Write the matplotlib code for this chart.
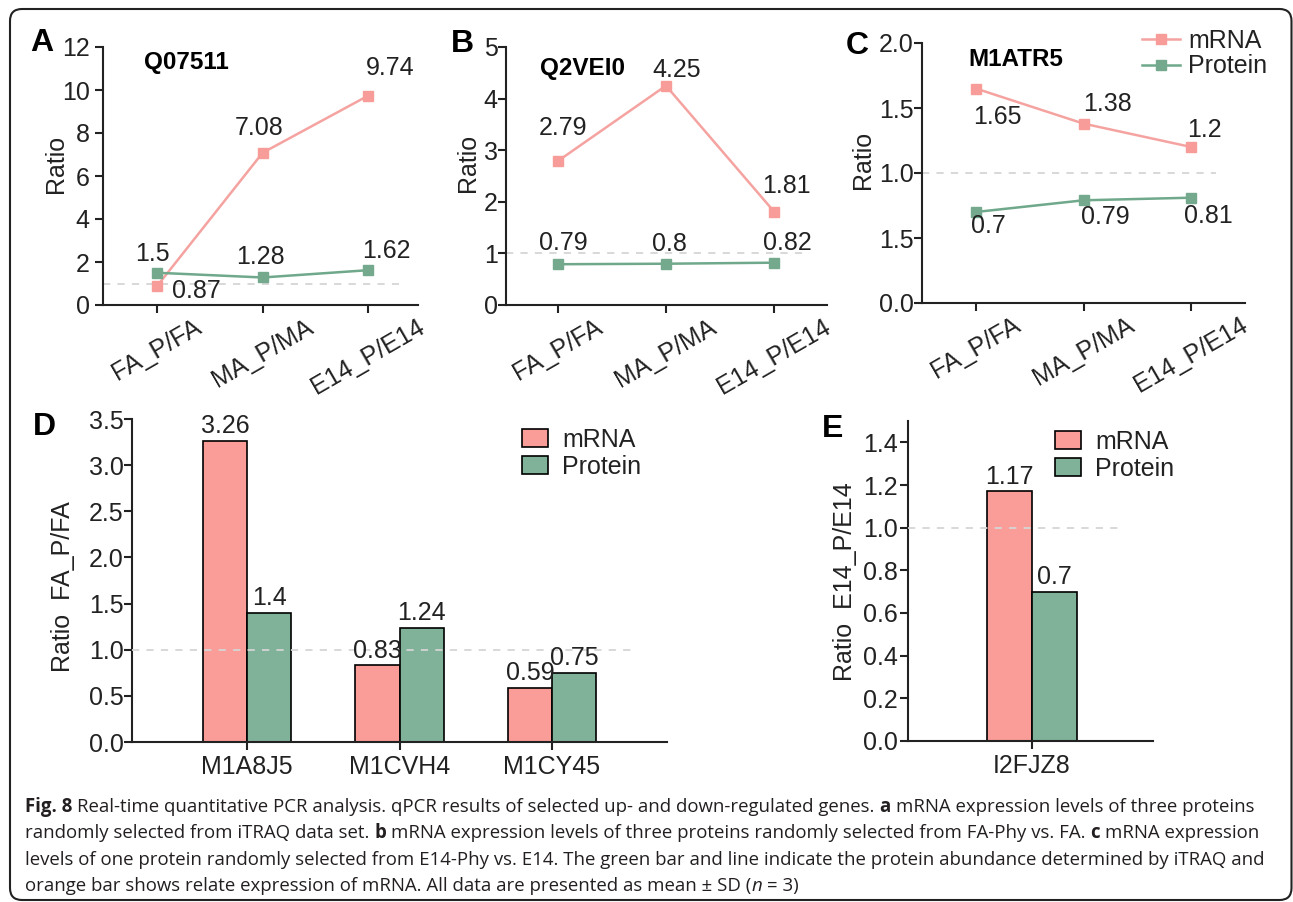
"""
qPCR vs iTRAQ ratios (Fig. 8): three line panels (A-C) on top,
two grouped bar panels (D, E) below, caption box at the bottom.
"""
import matplotlib
matplotlib.use("Agg")
import matplotlib.pyplot as plt
import numpy as np
from matplotlib.patches import FancyBboxPatch
from matplotlib.transforms import IdentityTransform

# ── Data ───────────────────────────────────────────────────────────────────────
CATS = ["FA_P/FA", "MA_P/MA", "E14_P/E14"]

A_MRNA = [0.87, 7.08, 9.74]
A_PROT = [1.5, 1.28, 1.62]
B_MRNA = [2.79, 4.25, 1.81]
B_PROT = [0.79, 0.8, 0.82]
C_MRNA = [1.65, 1.38, 1.2]
C_PROT = [0.7, 0.79, 0.81]

A_YTICKS = [0, 2, 4, 6, 8, 10, 12]
B_YTICKS = [0, 1, 2, 3, 4, 5]
C_YTICKS = [0.0, 0.5, 1.0, 1.5, 2.0]
C_YTICK_LABELS = ["0.0", "1.5", "1.0", "1.5", "2.0"]   # as printed in the figure

D_GENES = ["M1A8J5", "M1CVH4", "M1CY45"]
D_MRNA = [3.26, 0.83, 0.59]
D_PROT = [1.4, 1.24, 0.75]
D_YTICKS = [0.0, 0.5, 1.0, 1.5, 2.0, 2.5, 3.0, 3.5]

E_GENES = ["I2FJZ8"]
E_MRNA = [1.17]
E_PROT = [0.7]
E_YTICKS = [0.0, 0.2, 0.4, 0.6, 0.8, 1.0, 1.2, 1.4]

CAPTION = [
    [("Fig. 8", "bold", "normal"),
     (" Real-time quantitative PCR analysis. qPCR results of selected up- and down-regulated genes. ", "normal", "normal"),
     ("a", "bold", "normal"),
     (" mRNA expression levels of three proteins", "normal", "normal")],
    [("randomly selected from iTRAQ data set. ", "normal", "normal"),
     ("b", "bold", "normal"),
     (" mRNA expression levels of three proteins randomly selected from FA-Phy vs. FA. ", "normal", "normal"),
     ("c", "bold", "normal"),
     (" mRNA expression", "normal", "normal")],
    [("levels of one protein randomly selected from E14-Phy vs. E14. The green bar and line indicate the protein abundance determined by iTRAQ and",
      "normal", "normal")],
    [("orange bar shows relate expression of mRNA. All data are presented as mean \u00b1 SD (", "normal", "normal"),
     ("n", "normal", "italic"),
     (" = 3)", "normal", "normal")],
]

# ── Style ──────────────────────────────────────────────────────────────────────
plt.rcParams.update({
    "font.family": ["Liberation Sans", "DejaVu Sans"],
    "font.size": 18,
    "axes.linewidth": 1.5,
    "xtick.major.width": 1.5,
    "ytick.major.width": 1.5,
    "xtick.major.size": 5.5,
    "ytick.major.size": 5.5,
    "xtick.labelsize": 18,
    "ytick.labelsize": 18,
})

TXT = "#222222"
MRNA_LINE = "#F5A3A0"
MRNA_MK = "#F79C98"
PROT_LINE = "#6FA88A"
PROT_MK = "#74A98D"
MRNA_BAR = "#FA9C98"
PROT_BAR = "#80B29A"
REF = "#D5D5D5"

W, H = 1293, 902
fig = plt.figure(figsize=(W / 100, H / 100), dpi=100)


def fx(x):
    return x / W


def fy(y):
    return 1 - y / H


def add_ax(x0, top, x1, bot):
    return fig.add_axes([x0 / W, 1 - bot / H, (x1 - x0) / W, (bot - top) / H])


def style_axes(ax, ypad):
    for s in ("top", "right"):
        ax.spines[s].set_visible(False)
    for s in ("left", "bottom"):
        ax.spines[s].set_color(TXT)
    ax.tick_params(axis="y", direction="out", pad=ypad, colors=TXT)
    ax.tick_params(axis="x", direction="out", colors=TXT)
    ax.patch.set_visible(False)


def line_panel(box, xlim, ylim, yticks, yticklabels, mrna, prot,
               off_m, off_p, ref_frac, ypad):
    ax = add_ax(*box)
    x = np.arange(len(CATS))
    ax.axhline(1, xmin=0, xmax=ref_frac, color=REF, lw=1.3,
               ls=(0, (4, 4)), zorder=1)
    ax.plot(x, mrna, color=MRNA_LINE, lw=1.8, marker="s", ms=7,
            mfc=MRNA_MK, mec=MRNA_MK, label="mRNA", zorder=3)
    ax.plot(x, prot, color=PROT_LINE, lw=1.8, marker="s", ms=7.5,
            mfc=PROT_MK, mec=PROT_MK, label="Protein", zorder=3)
    for vals, offs in ((mrna, off_m), (prot, off_p)):
        for xi, v, (dx, dy) in zip(x, vals, offs):
            ax.annotate(f"{v:g}", (xi, v), xytext=(dx, -dy),
                        textcoords="offset pixels", ha="center",
                        va="center", fontsize=18, color=TXT)
    ax.set_xlim(*xlim)
    ax.set_ylim(*ylim)
    ax.set_yticks(yticks)
    ax.set_yticklabels(yticklabels)
    ax.set_xticks(x)
    ax.set_xticklabels(CATS, rotation=30, ha="center")
    ax.tick_params(axis="x", pad=1.5)
    style_axes(ax, ypad)
    return ax


def bar_panel(box, xlim, ylim, yticks, genes, mrna, prot, ref_frac, ypad,
              width=0.29):
    ax = add_ax(*box)
    x = np.arange(len(genes))
    ax.axhline(1, xmin=0, xmax=ref_frac, color=REF, lw=1.3,
               ls=(0, (4, 4)), zorder=3)
    b1 = ax.bar(x - width / 2, mrna, width, color=MRNA_BAR, edgecolor="black",
                lw=1.2, label="mRNA", zorder=2)
    b2 = ax.bar(x + width / 2, prot, width, color=PROT_BAR, edgecolor="black",
                lw=1.2, label="Protein", zorder=2)
    for bars, vals in ((b1, mrna), (b2, prot)):
        for rect, v in zip(bars, vals):
            ax.annotate(f"{v:g}", (rect.get_x() + rect.get_width() / 2, v),
                        xytext=(0, 2), textcoords="offset points",
                        ha="center", va="bottom", fontsize=18, color=TXT,
                        zorder=4)
    ax.set_xlim(*xlim)
    ax.set_ylim(*ylim)
    ax.set_yticks(yticks)
    ax.set_yticklabels([f"{t:.1f}" for t in yticks])
    ax.set_xticks(x)
    ax.set_xticklabels(genes)
    ax.tick_params(axis="x", pad=4)
    style_axes(ax, ypad)
    return ax


# ── Top row: line panels ───────────────────────────────────────────────────────
axA = line_panel((103, 47, 418, 305), (-0.51, 2.47), (0, 12), A_YTICKS,
                 [str(t) for t in A_YTICKS], A_MRNA, A_PROT,
                 [(39, 5), (-3, -25), (22, -28)],
                 [(-4, -19), (-2, -20), (18, -19)], 0.94, 4)
axB = line_panel((506, 47, 827, 305), (-0.48, 2.49), (0, 5), B_YTICKS,
                 [str(t) for t in B_YTICKS], B_MRNA, B_PROT,
                 [(5, -33), (11, -16), (12, -26)],
                 [(5, -21), (3, -20), (13, -20)], 0.94, 0.5)
axC = line_panel((922, 43, 1245, 303), (-0.5, 2.5), (0, 2), C_YTICKS,
                 C_YTICK_LABELS, C_MRNA, C_PROT,
                 [(22, 28), (24, -20), (13, -17)],
                 [(13, 14), (22, 17), (17, 18)], 0.91, 0.5)

axC.legend(loc="upper left", bbox_to_anchor=(fx(1142), fy(29)),
           bbox_transform=fig.transFigure, frameon=False, fontsize=18,
           handlelength=1.5, handletextpad=0.35, labelspacing=0.05,
           borderpad=0, borderaxespad=0, labelcolor=TXT)

# ── Bottom row: bar panels ─────────────────────────────────────────────────────
axD = bar_panel((132, 419, 667, 742), (-0.754, 2.754), (0, 3.5), D_YTICKS,
                D_GENES, D_MRNA, D_PROT, 0.94, 0.5)
axE = bar_panel((908, 421, 1153, 741), (-0.80, 0.78), (0, 1.5), E_YTICKS,
                E_GENES, E_MRNA, E_PROT, 0.88, 2)

for ax, xy in ((axD, (522, 428)), (axE, (1055, 430))):
    ax.legend(loc="upper left", bbox_to_anchor=(fx(xy[0]), fy(xy[1])),
              bbox_transform=fig.transFigure, frameon=False, fontsize=18,
              handlelength=1.05, handleheight=0.75, handletextpad=0.55,
              labelspacing=0.1, borderpad=0, borderaxespad=0, labelcolor=TXT)

# ── Panel letters, titles, y labels ───────────────────────────────────────────
for letter, (x, y) in zip("ABCDE", [(42, 43), (462, 44), (857, 46),
                                    (44, 427), (833, 429)]):
    fig.text(fx(x), fy(y), letter, fontsize=23, fontweight="bold",
             ha="center", va="center", color="black")

for title, (x, y) in zip(["Q07511", "Q2VEI0", "M1ATR5"],
                         [(144, 62), (540, 68), (968, 60)]):
    fig.text(fx(x), fy(y), title, fontsize=17.5, fontweight="bold",
             ha="left", va="center", color="black")

for label, (x, y) in zip(["Ratio", "Ratio", "Ratio", "Ratio  FA_P/FA",
                          "Ratio  E14_P/E14"],
                         [(56, 164), (468, 163), (863, 160), (63, 587),
                          (845, 582)]):
    fig.text(fx(x), fy(y), label, fontsize=18, rotation=90,
             ha="center", va="center", color=TXT)

# ── Caption ────────────────────────────────────────────────────────────────────
renderer = fig.canvas.get_renderer()
CAP_FONT = ["Open Sans", "DejaVu Sans"]
CAP_SIZE = 13.4


def advance(s, weight, style):
    t = fig.text(0, 0, "|" + s + "|", fontsize=CAP_SIZE, family=CAP_FONT,
                 fontweight=weight, fontstyle=style)
    w = t.get_window_extent(renderer=renderer).width
    t.remove()
    t = fig.text(0, 0, "||", fontsize=CAP_SIZE, family=CAP_FONT,
                 fontweight=weight, fontstyle=style)
    w0 = t.get_window_extent(renderer=renderer).width
    t.remove()
    return w - w0


for i, parts in enumerate(CAPTION):
    x = 25
    y = 812 + i * 26.4
    for text, weight, style in parts:
        lead = len(text) - len(text.lstrip(" "))
        xd = x + (advance(" " * lead, weight, style) if lead else 0)
        fig.text(fx(xd), fy(y), text.strip(" "), fontsize=CAP_SIZE,
                 family=CAP_FONT, fontweight=weight, fontstyle=style,
                 ha="left", va="baseline", color="#231f20")
        x += advance(text, weight, style)

# ── Outer rounded frame ────────────────────────────────────────────────────────
frame = FancyBboxPatch((10, H - 900), 1281.5, 891,
                       boxstyle="round,pad=0,rounding_size=12",
                       transform=IdentityTransform(), fill=False,
                       ec="#222222", lw=1.5)
fig.add_artist(frame)

fig.savefig("out.png", dpi=100)
